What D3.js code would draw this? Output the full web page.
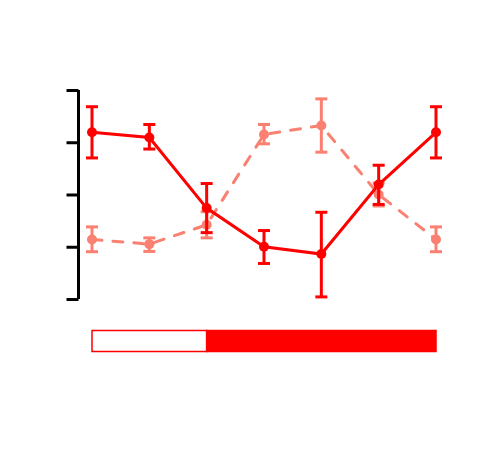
<!DOCTYPE html>
<html><head><meta charset="utf-8">
<script src="https://cdn.jsdelivr.net/npm/d3@7"></script>
<style>html,body{margin:0;padding:0;background:#fff;}</style>
</head><body>
<script>
const categories = [1, 2, 3, 4, 5, 6, 7];
const solidMean  = [3.19, 3.09, 1.74, 1.00, 0.86, 2.19, 3.19];
const solidLow   = [2.70, 2.87, 1.27, 0.68, 0.04, 1.81, 2.70];
const solidHigh  = [3.68, 3.34, 2.21, 1.31, 1.66, 2.56, 3.68];
const dashMean   = [1.14, 1.05, 1.42, 3.15, 3.32, 2.00, 1.14];
const dashLow    = [0.905, 0.91, 1.17, 2.97, 2.81, 1.78, 0.905];
const dashHigh   = [1.38, 1.17, 1.67, 3.34, 3.83, 2.22, 1.38];
const yTicks     = [0, 1, 2, 3, 4];
const bandStarts = [1, 3];
const bandEnds   = [3, 7];
const bandFilled = [false, true];

const W = 490, H = 460;
const svg = d3.select("body").append("svg").attr("width", W).attr("height", H);

const x = d3.scalePoint().domain(categories).range([92, 436]);
const y = d3.scaleLinear().domain([0, 4]).range([299, 90]);

// y axis
const ax = svg.append("g").attr("transform", "translate(78.5,0)")
  .call(d3.axisLeft(y).tickValues(yTicks).tickSize(12).tickFormat(""));
ax.select(".domain").attr("stroke", "#000").attr("stroke-width", 3)
  .attr("d", `M0,${y(0)}V${y(4)}`);
ax.selectAll(".tick line").attr("stroke", "#000").attr("stroke-width", 3);

function drawSeries(mean, low, high, color, dash) {
  const g = svg.append("g");
  const line = d3.line().x((d, i) => x(categories[i])).y(d => y(d));
  g.append("path").datum(mean).attr("d", line).attr("fill", "none")
    .attr("stroke", color).attr("stroke-width", 3)
    .attr("stroke-linecap", dash ? "round" : "butt")
    .attr("stroke-dasharray", dash ? "10,11" : null);
  const eb = g.selectAll(".eb").data(categories).enter().append("g");
  eb.append("line").attr("x1", d => x(d)).attr("x2", d => x(d))
    .attr("y1", (d, i) => y(low[i])).attr("y2", (d, i) => y(high[i]))
    .attr("stroke", color).attr("stroke-width", 3);
  [low, high].forEach(arr => {
    eb.append("line").attr("x1", d => x(d) - 6).attr("x2", d => x(d) + 6)
      .attr("y1", (d, i) => y(arr[i])).attr("y2", (d, i) => y(arr[i]))
      .attr("stroke", color).attr("stroke-width", 3);
  });
  g.selectAll(".pt").data(mean).enter().append("circle")
    .attr("cx", (d, i) => x(categories[i])).attr("cy", d => y(d))
    .attr("r", 5).attr("fill", color);
}

drawSeries(dashMean, dashLow, dashHigh, "#FA8072", true);
drawSeries(solidMean, solidLow, solidHigh, "#FF0000", false);

// bottom band
const band = svg.append("g");
bandStarts.forEach((s, i) => {
  band.append("rect").attr("x", x(s)).attr("y", 330.5)
    .attr("width", x(bandEnds[i]) - x(s)).attr("height", 21)
    .attr("fill", bandFilled[i] ? "#FF0000" : "#fff")
    .attr("stroke", "#FF0000").attr("stroke-width", 1.5);
});
</script>
</body></html>
